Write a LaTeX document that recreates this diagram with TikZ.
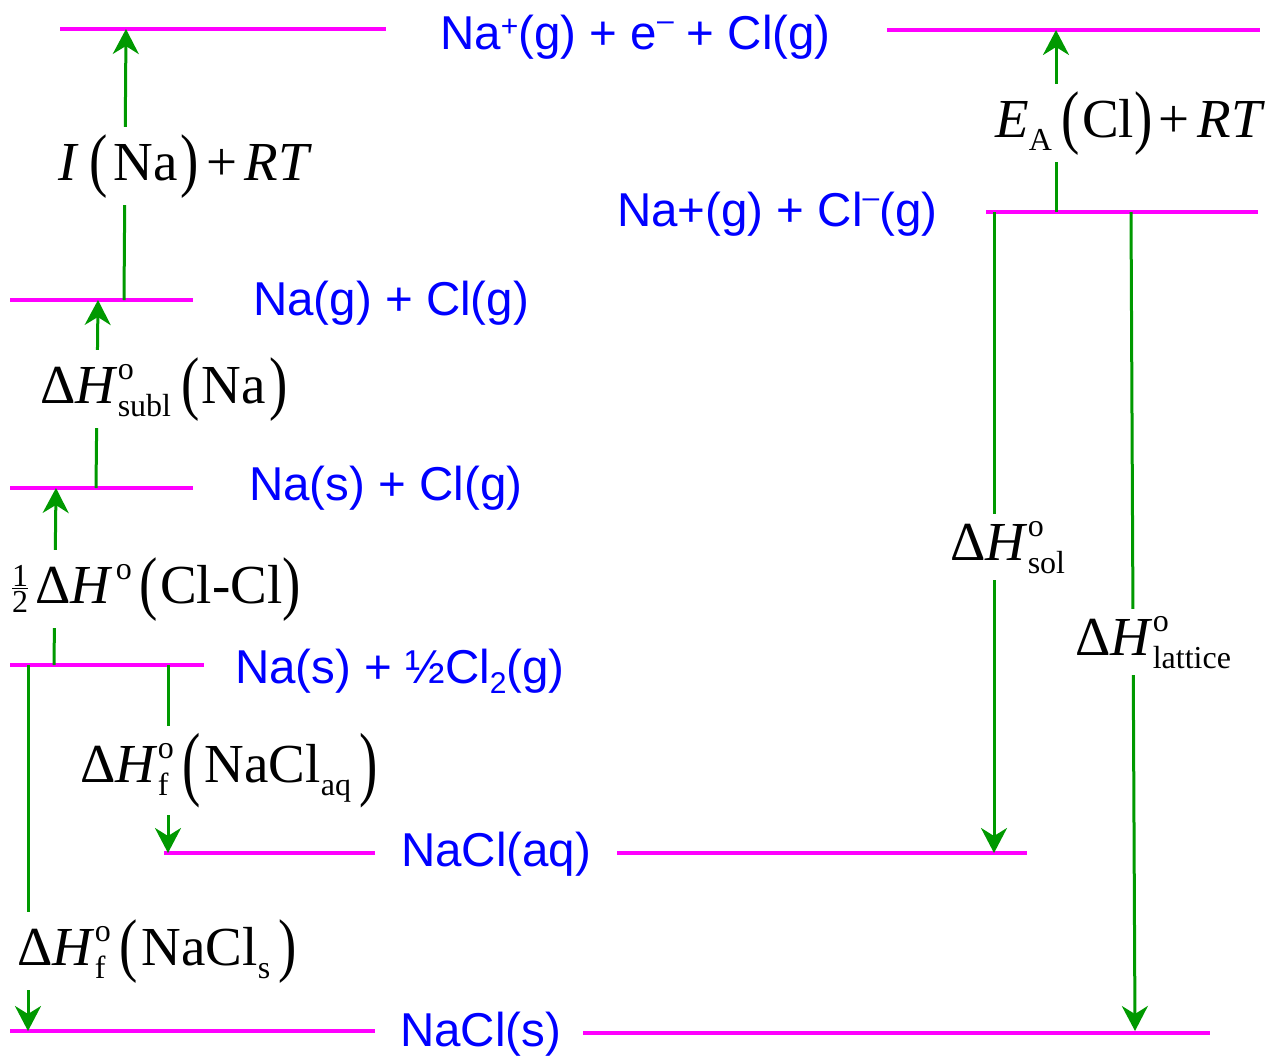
\documentclass[tikz,border=0pt]{standalone}
\usepackage{fontspec}
\usepackage{graphicx}
\setmainfont{Liberation Serif}
\newfontfamily\arialf{Liberation Sans}
\usetikzlibrary{arrows.meta}
\definecolor{grn}{RGB}{0,153,0}
\definecolor{lvlc}{RGB}{255,0,255}
\definecolor{txtb}{RGB}{0,0,255}
\newcommand{\bfnt}{\arialf\fontsize{47.5}{50}\selectfont}
\newcommand{\lfnt}{\fontsize{55}{60}\selectfont}
\newcommand{\ssf}{\fontsize{32}{32}\selectfont}
\newcommand{\lp}{\raisebox{-3pt}{\scalebox{1}[1.28]{(}}}
\newcommand{\rp}{\raisebox{-3pt}{\scalebox{1}[1.28]{)}}}
\newcommand{\lpb}{\raisebox{-8pt}{\scalebox{1}[1.5]{(}}}
\newcommand{\rpb}{\raisebox{-8pt}{\scalebox{1}[1.5]{)}}}
\newcommand{\supsub}[2]{{\ssf\makebox[0pt][l]{\raisebox{24pt}{#1}}\raisebox{-13pt}{#2}}}
\newcommand{\supo}{{\ssf\raisebox{24pt}{o}}}
\newcommand{\subb}[1]{{\ssf\raisebox{-13pt}{#1}}}
\newcommand{\halffrac}{{\ssf\raisebox{-9pt}{\vbox{\halign{\hfil##\hfil\cr 1\cr\noalign{\kern1.5pt\hrule height 1.3pt\kern1.5pt}2\cr}}}}}
\newcommand{\bsup}[2]{\raisebox{#1}{\fontsize{30}{30}\selectfont #2}}
\tikzset{
  lvl/.style={draw=lvlc, line width=4pt},
  arr/.style={draw=grn, line width=3pt, -{Stealth[length=25pt,width=26pt,inset=8pt]}},
  blu/.style={text=txtb, font=\bfnt, inner sep=0pt, anchor=base west},
  lab/.style={font=\lfnt, fill=white, inner xsep=2pt, inner ysep=7pt, anchor=base west},
}
\begin{document}
\begin{tikzpicture}[x=1pt,y=-1pt]
\useasboundingbox[fill=white] (0,0) rectangle (1273,1055);
% levels
\draw[lvl] (60,29) -- (386,29);
\draw[lvl] (887,30) -- (1260,30);
\draw[lvl] (986,212) -- (1258,212);
\draw[lvl] (10,300) -- (193,300);
\draw[lvl] (10,488) -- (193,488);
\draw[lvl] (10,665) -- (204,665);
\draw[lvl] (164,853) -- (375,853);
\draw[lvl] (617,853) -- (1027,853);
\draw[lvl] (10,1031) -- (375,1031);
\draw[lvl] (583,1033) -- (1210,1033);
% level texts
\node[blu] (tTop) at (440,49) {Na\bsup{13pt}{+}(g) + e\bsup{19pt}{–} + Cl(g)};
\node[blu] (tIon) at (617,226) {Na+(g) + Cl\bsup{19pt}{–}(g)};
\node[blu] (tGas) at (253,315) {Na(g) + Cl(g)};
\node[blu] (tSG) at (249,500) {Na(s) + Cl(g)};
\node[blu] (tEl) at (235,683) {Na(s) + ½Cl\raisebox{-10pt}{\fontsize{30}{30}\selectfont 2}(g)};
\node[blu] (tAq) at (401,866) {NaCl(aq)};
\node[blu] (tS) at (400,1046) {NaCl(s)};
% arrow end points
\coordinate (i0) at (124,300); \coordinate (i1) at (126,29);
\coordinate (s0) at (96,488);  \coordinate (s1) at (98,300);
\coordinate (d0) at (54,665);  \coordinate (d1) at (56,488);
\coordinate (fa0) at (168,665); \coordinate (fa1) at (168,853);
\coordinate (fs0) at (28,665); \coordinate (fs1) at (28,1031);
\coordinate (e0) at (1056,212); \coordinate (e1) at (1056,30);
\coordinate (so0) at (994,212); \coordinate (so1) at (994,853);
\coordinate (la0) at (1131,212); \coordinate (la1) at (1135,1031);
% arrows
\draw[arr] (i0) -- (i1);
\draw[arr] (s0) -- (s1);
\draw[arr] (d0) -- (d1);
\draw[arr] (fa0) -- (fa1);
\draw[arr] (fs0) -- (fs1);
\draw[arr] (e0) -- (e1);
\draw[arr] (so0) -- (so1);
\draw[arr] (la0) -- (la1);
% labels
\node[lab] (lI) at (56,180) {\textit{I}\hspace{11pt}\lp\hspace{6pt}Na\hspace{2pt}\rp\hspace{8pt}+\hspace{7pt}\textit{RT}};
\node[lab] (lE) at (993,137) {\textit{E}\subb{A}\hspace{10pt}\lp\hspace{2pt}Cl\rp\hspace{6pt}+\hspace{8pt}\textit{RT}};
\node[lab] (lSub) at (38,403) {Δ\textit{H}\supsub{o}{subl}\hspace{10pt}\lp\hspace{2pt}Na\hspace{4pt}\rp};
\node[lab] (lD) at (10,603) {\halffrac\hspace{7pt}Δ\textit{H}\hspace{3pt}\supo\hspace{8pt}\lp\hspace{2pt}Cl-Cl\rp};
\node[lab] (lFa) at (78,782) {Δ\textit{H}\supsub{o}{f}\hspace{14pt}\lpb\hspace{4pt}NaCl\subb{aq}\hspace{8pt}\rpb};
\node[lab] (lFs) at (15,965) {Δ\textit{H}\supsub{o}{f}\hspace{14pt}\lp\hspace{4pt}NaCl\subb{s}\hspace{8pt}\rp};
\node[lab] (lSol) at (948,560) {Δ\textit{H}\supsub{o}{sol}};
\node[lab] (lLat) at (1073,655) {Δ\textit{H}\supsub{o}{lattice}};
\end{tikzpicture}
\end{document}
